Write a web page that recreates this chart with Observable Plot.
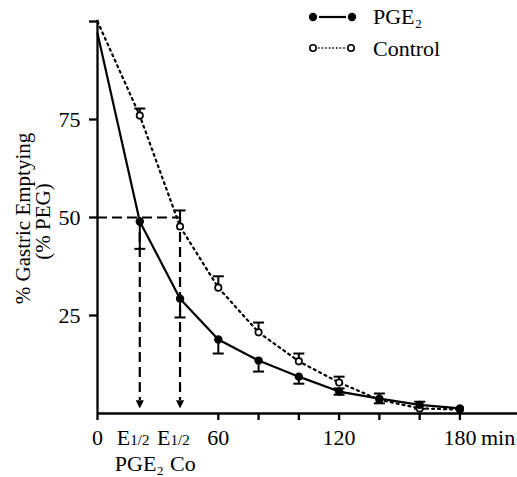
<!DOCTYPE html>
<html><head><meta charset="utf-8">
<script src="https://cdn.jsdelivr.net/npm/d3@7"></script>
<script src="https://cdn.jsdelivr.net/npm/@observablehq/plot@0.6"></script>
<style>body{margin:0;background:#fff}</style>
</head><body><div id="chart"></div>
<script>
const times = [0, 21, 41, 60, 80, 100, 120, 140, 160, 180];
const pge2 = [97, 49, 29.3, 18.9, 13.5, 9.4, 5.6, 3.8, 2.2, 1.3];
const pge2ErrDown = [0, 7, 4.8, 3.6, 2.8, 1.8, 0.8, 1.2, 1.0, 0];
const pge2ErrUp = [0, 0, 0, 0, 0, 0, 0.8, 1.3, 0.8, 0];
const control = [100, 76, 47.7, 32.1, 20.7, 13.3, 7.9, 3.5, 1.3, 1.0];
const controlErrUp = [0, 1.8, 4.1, 2.9, 2.5, 2.0, 1.5, 0, 0, 0];
const yTicks = [25, 50, 75, 100];
const xTicks = [0, 60, 80, 100, 120, 140, 160, 180];
const xTickLabels = {0: "0", 60: "60", 120: "120", 180: "180"};
const halfTimes = [21, 41];          // E1/2 for PGE2 and Control
const halfLevel = 50;
const halfArrowEnd = 1.3;
const halfNames = ["PGE\u2082", "Co"];
const legendLabels = ["PGE\u2082", "Control"];

const FONT = '"Liberation Serif", "Times New Roman", serif';

const rows = times.map((t, i) => ({t, p: pge2[i], pd: pge2ErrDown[i], pu: pge2ErrUp[i], c: control[i], cu: controlErrUp[i]}));
const pBars = rows.filter(d => d.pd > 0 || d.pu > 0);
const cBars = rows.filter(d => d.cu > 0);

const capSymbol = {draw(ctx, size) { const h = Math.sqrt(size / Math.PI); ctx.moveTo(-h, 0); ctx.lineTo(h, 0); }};
const arrowSymbol = {draw(ctx, size) { const s = Math.sqrt(size / Math.PI) * 1.8; ctx.moveTo(0, 0); ctx.lineTo(-s / 2, -s); ctx.lineTo(s / 2, -s); ctx.closePath(); }};

const chart = Plot.plot({
  width: 517, height: 477,
  marginLeft: 97, marginRight: 0, marginTop: 21, marginBottom: 64,
  x: {domain: [0, 208.6]},
  y: {domain: [0, 100]},
  style: {fontFamily: FONT, fontSize: "22px", background: "#fff", color: "#000"},
  marks: [
    // guide lines for E1/2
    Plot.ruleY([halfLevel], {x1: 0, x2: halfTimes[1], stroke: "#000", strokeWidth: 2.2, strokeDasharray: "10,5"}),
    Plot.ruleX(halfTimes, {y1: halfLevel, y2: halfArrowEnd + 2, stroke: "#000", strokeWidth: 2.2, strokeDasharray: "10,5"}),
    Plot.dot(halfTimes, {x: d => d, y: halfArrowEnd, symbol: arrowSymbol, r: 4.5, fill: "#000", stroke: "none"}),
    // series lines
    Plot.line(rows, {x: "t", y: "c", stroke: "#000", strokeWidth: 2.2, strokeDasharray: "2,4"}),
    Plot.line(rows, {x: "t", y: "p", stroke: "#000", strokeWidth: 2.2}),
    // error bars
    Plot.ruleX(pBars, {x: "t", y1: d => d.p - d.pd, y2: d => d.p + d.pu, stroke: "#000", strokeWidth: 2}),
    Plot.dot(pBars.filter(d => d.pd > 0), {x: "t", y: d => d.p - d.pd, symbol: capSymbol, r: 5.5, stroke: "#000", strokeWidth: 2}),
    Plot.dot(pBars.filter(d => d.pu > 0), {x: "t", y: d => d.p + d.pu, symbol: capSymbol, r: 5.5, stroke: "#000", strokeWidth: 2}),
    Plot.ruleX(cBars, {x: "t", y1: "c", y2: d => d.c + d.cu, stroke: "#000", strokeWidth: 2}),
    Plot.dot(cBars, {x: "t", y: d => d.c + d.cu, symbol: capSymbol, r: 5.5, stroke: "#000", strokeWidth: 2}),
    // points
    Plot.dot(rows.slice(1), {x: "t", y: "c", r: 3.2, fill: "#fff", stroke: "#000", strokeWidth: 1.7}),
    Plot.dot(rows.slice(1), {x: "t", y: "p", r: 4.2, fill: "#000", stroke: "none"}),
    // axes
    Plot.ruleY([0], {stroke: "#000", strokeWidth: 2.3}),
    Plot.ruleX([0], {y1: 100.3, y2: 0, stroke: "#000", strokeWidth: 2.3}),
    Plot.axisY({ticks: yTicks, tickSize: 8, tickPadding: 9, tickFormat: d => d === 100 ? "" : String(d), strokeWidth: 2.3, label: null}),
    Plot.axisX({ticks: xTicks, tickSize: 7, tickPadding: 9, tickFormat: d => xTickLabels[d] ?? "", strokeWidth: 2.3, label: null}),
    Plot.text(["min"], {x: 180, y: 0, text: d => d, textAnchor: "start", lineAnchor: "top", dx: 21, dy: 16}),
    // E1/2 labels
    Plot.text(halfTimes, {x: d => d, y: 0, text: () => "E", textAnchor: "start", lineAnchor: "top", dx: -23, dy: 16}),
    Plot.text(halfTimes, {x: d => d, y: 0, text: () => "1/2", textAnchor: "start", lineAnchor: "top", fontSize: 15, dx: -9.5, dy: 21}),
    Plot.text([halfTimes[0]], {x: d => d, y: 0, text: () => halfNames[0], textAnchor: "start", lineAnchor: "top", dx: -25, dy: 41.4}),
    Plot.text([halfTimes[1]], {x: d => d, y: 0, text: () => halfNames[1], textAnchor: "start", lineAnchor: "top", dx: -10, dy: 41.4}),
    // y title
    Plot.text(["% Gastric Emptying"], {frameAnchor: "left", text: d => d, textAnchor: "middle", rotate: -90, dx: -74.5, dy: 1, fontSize: 21}),
    Plot.text(["(% PEG)"], {frameAnchor: "left", text: d => d, textAnchor: "middle", rotate: -90, dx: -54, dy: 4, fontSize: 21})
  ]
});
document.getElementById("chart").appendChild(chart);

// Legend
const svg = d3.select(chart);
const lg = svg.append("g").attr("font-family", FONT).attr("font-size", 22).attr("text-anchor", "start");
// PGE2 row
lg.append("line").attr("x1", 319).attr("x2", 346).attr("y1", 17).attr("y2", 17).attr("stroke", "#000").attr("stroke-width", 2.2);
[313, 352].forEach(x => lg.append("circle").attr("cx", x).attr("cy", 17).attr("r", 4.2).attr("fill", "#000"));
lg.append("text").attr("x", 373).attr("y", 24).attr("text-anchor", "start").text(legendLabels[0]);
// Control row
lg.append("line").attr("x1", 318).attr("x2", 347).attr("y1", 48).attr("y2", 48).attr("stroke", "#000").attr("stroke-width", 1.6).attr("stroke-dasharray", "1.6,2");
[313, 351].forEach(x => lg.append("circle").attr("cx", x).attr("cy", 48).attr("r", 3.2).attr("fill", "#fff").attr("stroke", "#000").attr("stroke-width", 1.6));
lg.append("text").attr("x", 373).attr("y", 56).attr("text-anchor", "start").text(legendLabels[1]);
</script>
</body></html>
